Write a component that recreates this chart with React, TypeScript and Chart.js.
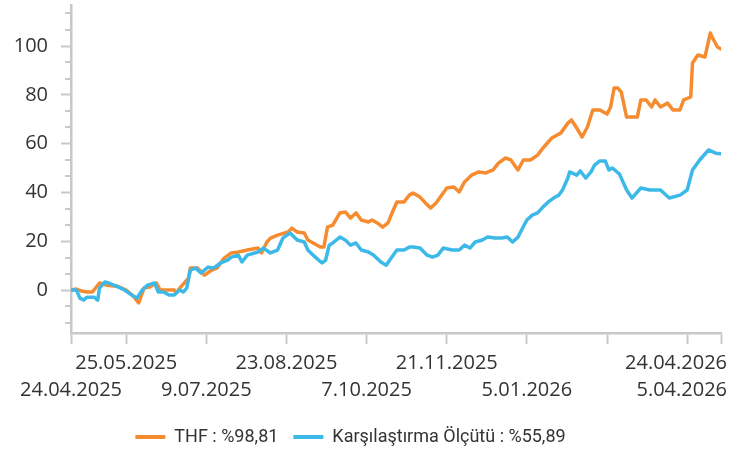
import React, { useEffect, useRef } from 'react';
import { Chart, registerables } from 'chart.js';

Chart.register(...registerables);

// Days since 24.04.2025
const thfDays = [0, 3, 6, 9, 12, 16, 20, 26, 31, 35, 38, 41, 44, 48, 50, 54, 58, 59, 62, 66, 67, 71, 75, 79, 82, 86, 90, 94, 99, 105, 107, 110, 112, 116, 122, 124, 127, 131, 133, 136, 140, 142, 144, 147, 151, 154, 157, 160, 163, 167, 169, 172, 175, 178, 181, 183, 187, 190, 192, 196, 199, 202, 205, 209, 211, 215, 218, 221, 225, 229, 233, 237, 240, 244, 247, 251, 254, 258, 262, 265, 270, 275, 279, 281, 284, 287, 290, 293, 297, 301, 303, 305, 307, 309, 312, 318, 320, 323, 326, 328, 331, 335, 338, 342, 344, 348, 349, 352, 356, 359, 360, 363, 365];
const thfValues = [0, 0.4, -0.4, -0.8, -0.8, 2.9, 2.0, 1.6, 0, -2.5, -5.3, 0.8, 1.2, 2.9, 0, 0, 0, -1.2, 1.6, 4.9, 9.0, 9.0, 6.1, 8.2, 9.0, 13.1, 15.2, 15.6, 16.4, 17.2, 15.2, 19.7, 21.3, 22.5, 23.8, 25.4, 23.8, 23.4, 20.5, 19.3, 17.6, 17.6, 25.8, 26.6, 31.6, 32.0, 29.5, 31.6, 28.7, 27.9, 28.7, 27.5, 25.8, 27.5, 32.8, 36.1, 36.1, 38.9, 39.8, 38.1, 35.7, 33.6, 35.7, 39.8, 41.8, 42.2, 40.2, 44.3, 47.1, 48.4, 48.0, 49.2, 52.0, 54.1, 53.3, 49.2, 53.3, 53.3, 55.3, 58.2, 62.3, 64.3, 68.4, 69.7, 66.4, 62.7, 66.8, 73.8, 73.8, 72.1, 75.0, 82.8, 82.8, 81.1, 70.9, 70.9, 77.9, 77.9, 75.0, 77.9, 75.0, 76.6, 73.8, 73.8, 77.9, 79.1, 93.0, 96.3, 95.5, 105.3, 103.7, 99.6, 98.81];

const benchDays = [0, 3, 5, 7, 9, 13, 15, 16, 19, 21, 24, 28, 30, 34, 37, 40, 43, 47, 49, 52, 55, 58, 61, 63, 65, 67, 70, 73, 77, 80, 84, 88, 90, 94, 96, 99, 105, 108, 112, 116, 119, 123, 127, 131, 133, 136, 139, 141, 143, 145, 147, 149, 151, 154, 157, 160, 163, 167, 170, 174, 177, 179, 183, 187, 190, 192, 196, 200, 203, 206, 209, 214, 218, 221, 224, 227, 231, 234, 238, 242, 245, 248, 251, 253, 256, 259, 262, 265, 268, 271, 274, 276, 279, 280, 284, 286, 289, 292, 294, 297, 300, 302, 304, 308, 312, 315, 320, 325, 331, 336, 342, 346, 349, 353, 358, 362, 365];
const benchValues = [0, 0, -3.3, -4.1, -2.9, -2.9, -4.1, 0.8, 3.3, 2.9, 2.0, 0.8, 0, -2.0, -3.3, 0, 2.0, 2.9, -0.8, -0.8, -2.0, -2.0, 0, -0.8, 0.8, 8.2, 9.0, 7.0, 9.4, 9.0, 11.1, 12.3, 13.5, 14.3, 11.5, 14.3, 15.6, 17.2, 15.2, 16.4, 21.3, 23.4, 20.5, 19.7, 16.4, 14.3, 12.3, 11.1, 12.3, 18.4, 19.3, 20.5, 21.7, 20.5, 18.4, 19.3, 16.4, 15.6, 14.3, 11.5, 10.2, 12.3, 16.4, 16.4, 17.6, 17.6, 17.2, 14.3, 13.5, 14.3, 17.2, 16.4, 16.4, 18.4, 17.2, 19.7, 20.5, 21.7, 21.3, 21.3, 21.7, 19.7, 21.7, 24.6, 28.7, 30.7, 31.6, 34.0, 36.1, 37.7, 38.9, 41.0, 45.9, 48.4, 47.1, 48.8, 45.9, 48.4, 51.2, 52.9, 52.9, 49.2, 50.0, 47.5, 41.0, 37.7, 41.8, 41.0, 41.0, 37.7, 38.9, 41.0, 49.2, 53.3, 57.4, 56.1, 55.89];

const xTickDays = [0, 31, 76, 121, 166, 211, 256, 301, 346, 365];
const xTickLabels = ['24.04.2025', '25.05.2025', '9.07.2025', '23.08.2025', '7.10.2025', '21.11.2025', '5.01.2026', '', '5.04.2026', '24.04.2026'];
const yTickValues = [0, 20, 40, 60, 80, 100];
const seriesNames = ['THF : %98,81', 'Karşılaştırma Ölçütü : %55,89'];

const ORANGE = '#F68B2F';
const BLUE = '#3CB9E8';
const AXIS = '#C8C8C8';
const TEXT = '#333333';

const customAxes = {
  id: 'customAxes',
  afterLayout(chart: any) {
    const lg = chart.legend;
    if (lg) {
      lg.left -= 10;
      lg.right -= 10;
      lg.top += 3;
      lg.bottom += 3;
    }
  },
  afterDraw(chart: any) {
    const ctx = chart.ctx;
    const xs = chart.scales.x;
    const ys = chart.scales.y;
    const area = chart.chartArea;
    ctx.save();
    ctx.strokeStyle = AXIS;
    ctx.lineWidth = 2;
    for (let k = -3; k <= 18; k++) {
      if (k % 3 === 0) continue;
      const v = (k * 20) / 3;
      if (v < ys.min || v > ys.max) continue;
      const py = Math.round(ys.getPixelForValue(v));
      ctx.beginPath();
      ctx.moveTo(area.left - 6, py);
      ctx.lineTo(area.left, py);
      ctx.stroke();
    }
    ctx.font = '20px "Open Sans"';
    ctx.fillStyle = TEXT;
    ctx.textBaseline = 'middle';
    ctx.textAlign = 'left';
    xTickDays.forEach((d, i) => {
      const t = xTickLabels[i];
      if (!t) return;
      const w = ctx.measureText(t).width;
      const cx = xs.getPixelForValue(d);
      let left = cx - w / 2;
      if (left + w > 727) left = 727 - w;
      if (left < 0) left = 0;
      const py = area.bottom + (i % 2 === 0 ? 57 : 30);
      ctx.fillText(t, left, py);
    });
    ctx.restore();
  },
};

export default function App() {
  const ref = useRef<HTMLCanvasElement | null>(null);

  useEffect(() => {
    if (!ref.current) return;
    Chart.defaults.font.family = '"Open Sans"';
    const chart = new Chart(ref.current, {
      type: 'line',
      data: {
        datasets: [
          {
            label: seriesNames[0],
            data: thfDays.map((d, i) => ({ x: d, y: thfValues[i] })),
            borderColor: ORANGE,
            backgroundColor: ORANGE,
            borderWidth: 3.5,
            pointRadius: 0,
            tension: 0,
            borderJoinStyle: 'round',
            borderCapStyle: 'round',
            order: 1,
          },
          {
            label: seriesNames[1],
            data: benchDays.map((d, i) => ({ x: d, y: benchValues[i] })),
            borderColor: BLUE,
            backgroundColor: BLUE,
            borderWidth: 3.5,
            pointRadius: 0,
            tension: 0,
            borderJoinStyle: 'round',
            borderCapStyle: 'round',
            order: 0,
          },
        ],
      },
      options: {
        animation: false,
        responsive: false,
        layout: { padding: { top: 5, right: 18, bottom: 0, left: 0 } },
        plugins: {
          tooltip: { enabled: false },
          legend: {
            position: 'bottom',
            labels: {
              boxWidth: 30,
              boxHeight: 4,
              padding: 15,
              color: TEXT,
              font: { family: 'Roboto', size: 18 },
              sort: (a: any, b: any) => a.datasetIndex - b.datasetIndex,
              generateLabels: (c: any) =>
                (Chart.defaults.plugins.legend.labels as any)
                  .generateLabels(c)
                  .map((l: any) => ({ ...l, lineWidth: 0 })),
            },
          },
        },
        scales: {
          x: {
            type: 'linear',
            min: 0,
            max: 365,
            afterBuildTicks: (s: any) => {
              s.ticks = xTickDays.map((v) => ({ value: v }));
            },
            afterFit: (s: any) => {
              s.height = 77;
              s.paddingLeft = 0;
              s.paddingRight = 0;
            },
            ticks: { display: false },
            grid: {
              drawOnChartArea: false,
              drawTicks: true,
              tickLength: 11,
              tickColor: AXIS,
              tickWidth: 2,
            },
            border: { display: true, color: AXIS, width: 2.5 },
          },
          y: {
            type: 'linear',
            min: -17.6,
            max: 116.8,
            afterBuildTicks: (s: any) => {
              s.ticks = yTickValues.map((v) => ({ value: v }));
            },
            afterFit: (s: any) => {
              s.width = 71;
              s.paddingTop = 0;
              s.paddingBottom = 0;
            },
            ticks: {
              color: TEXT,
              padding: 13,
              font: { family: '"Open Sans"', size: 20 },
              callback: (v: any) => String(v),
            },
            grid: {
              drawOnChartArea: false,
              drawTicks: true,
              tickLength: 10,
              tickColor: AXIS,
              tickWidth: 2,
            },
            border: { display: true, color: AXIS, width: 2.5 },
          },
        },
      },
      plugins: [customAxes],
    } as any);
    return () => chart.destroy();
  }, []);

  return (
    <div style={{ position: 'absolute', left: 0, top: 0, width: 739, height: 453 }}>
      <canvas ref={ref} width={739} height={453} style={{ display: 'block', width: 739, height: 453 }} />
    </div>
  );
}
